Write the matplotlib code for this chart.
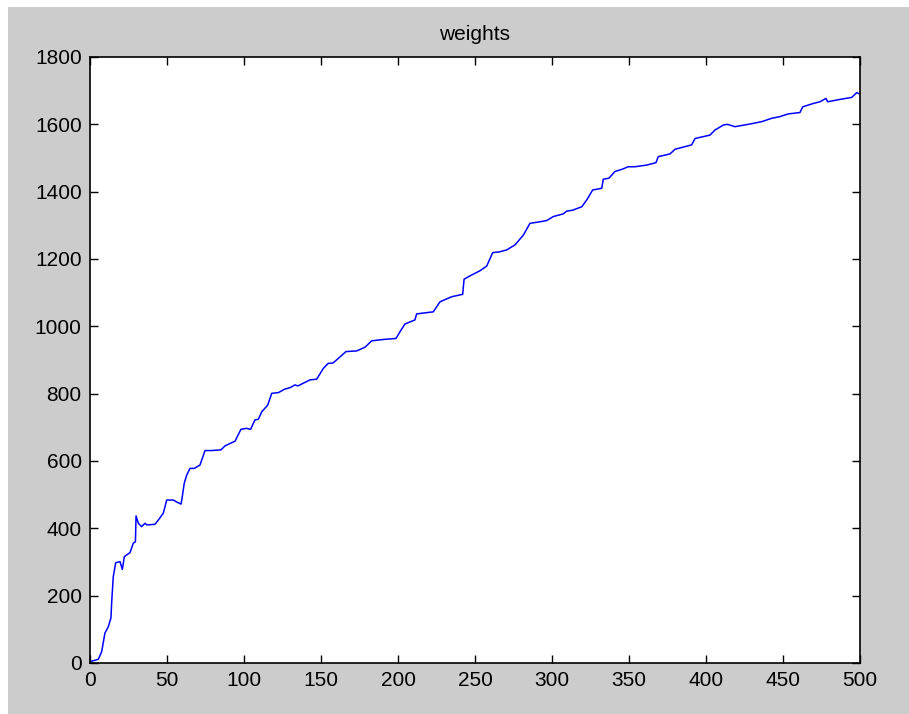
import matplotlib
matplotlib.use('Agg')
import matplotlib.pyplot as plt
from matplotlib.patches import Rectangle

# iteration index vs. weight
iters = [0, 5.4, 7.6, 9.7, 11.9, 13.6, 14.1, 15.1, 16.7, 19.5, 21, 22.3, 26, 28.1, 29.5,
         29.9, 31.4, 33.5, 35.7, 37, 42.2, 44.4, 47.6, 49.8, 54.1, 56, 59.1, 59.8, 61.2,
         62.8, 64.9, 67.7, 71.4, 74.7, 78.6, 85, 87.7, 94.2, 98, 101.6, 104.3, 107.1,
         109.3, 111.5, 115.4, 118, 122.3, 126.2, 130, 133.1, 135, 142.9, 147.2, 151.5,
         154.7, 157.8, 161.3, 166.2, 173.2, 178.6, 182.9, 190.5, 198.7, 201.3, 204.5,
         211, 212.1, 217.5, 222.9, 227.3, 234.9, 242, 242.9, 246.8, 253.2, 257.6, 261.5,
         265.7, 270.6, 276, 281.4, 285.7, 290, 296.5, 300.8, 307.3, 309.5, 313.4, 319.3,
         322.5, 326.4, 332.3, 333.3, 337, 340.9, 345.2, 349.5, 353.8, 361.5, 367.5, 369,
         376.6, 379.9, 390.7, 392.9, 402.6, 405.8, 411.3, 414, 418.8, 428.6, 436.2,
         442.7, 448.1, 453.4, 461, 462.8, 469.7, 474, 477.9, 479, 487, 494.6, 497.8, 500]
weights = [4, 11, 34, 89, 108, 134, 182, 256, 298, 301, 278, 316, 328, 356, 360,
           437, 415, 405, 415, 410, 412, 425, 445, 484, 484, 479, 472, 490, 534,
           558, 578, 578, 588, 631, 631, 633, 645, 659, 694, 697, 694, 722,
           724, 746, 766, 801, 803, 813, 818, 826, 823, 841, 843, 875,
           890, 891, 905, 925, 927, 938, 957, 961, 964, 984, 1007,
           1019, 1037, 1040, 1043, 1073, 1088, 1095, 1140, 1150, 1165, 1179, 1219,
           1221, 1227, 1242, 1271, 1306, 1309, 1314, 1326, 1334, 1342, 1345, 1355,
           1375, 1405, 1410, 1437, 1440, 1460, 1466, 1474, 1474, 1479, 1486, 1504,
           1512, 1526, 1539, 1558, 1568, 1583, 1598, 1600, 1593, 1601, 1608,
           1618, 1623, 1631, 1635, 1652, 1662, 1667, 1677, 1667, 1674, 1680, 1694, 1690]

xticks = [0, 50, 100, 150, 200, 250, 300, 350, 400, 450, 500]
yticks = [0, 200, 400, 600, 800, 1000, 1200, 1400, 1600, 1800]

plt.rcParams['font.family'] = ['Liberation Sans', 'DejaVu Sans']

fig = plt.figure(figsize=(9.09, 7.14), dpi=100, facecolor='#cccccc')
# white strip along the top and left edges of the screenshot
fig.patches.append(Rectangle((0, 1 - 7 / 714), 1, 7 / 714, transform=fig.transFigure,
                             facecolor='white', edgecolor='none'))
fig.patches.append(Rectangle((0, 0), 8 / 909, 1, transform=fig.transFigure,
                             facecolor='white', edgecolor='none'))

ax = fig.add_axes([90 / 909, 51 / 714, 770 / 909, 606 / 714])
ax.plot(iters, weights, color='#0000ff', linewidth=1.1)

ax.set_xlim(0, 500)
ax.set_ylim(0, 1800)
ax.set_xticks(xticks)
ax.set_yticks(yticks)
ax.tick_params(direction='in', length=6, width=1, top=True, right=True,
               labelsize=15, pad=6, colors='black')
for s in ax.spines.values():
    s.set_linewidth(1.2)
ax.set_title('weights', fontsize=15, pad=12)

fig.savefig('out.png', dpi=100, facecolor=fig.get_facecolor())
